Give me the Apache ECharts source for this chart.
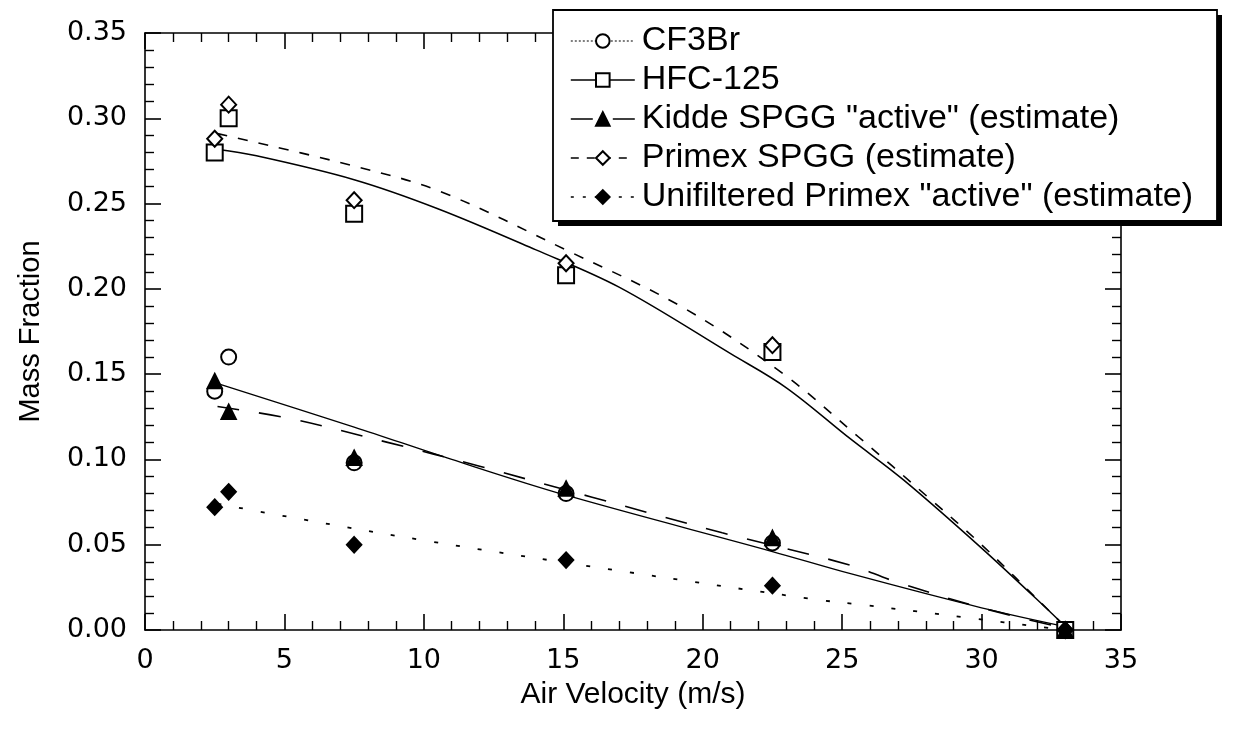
<!DOCTYPE html>
<html>
<head>
<meta charset="utf-8">
<script src="https://cdn.jsdelivr.net/npm/echarts@6/dist/echarts.min.js"></script>
<style>
html,body{margin:0;padding:0;background:#fff;}
#chart{width:1238px;height:742px;}
</style>
</head>
<body>
<div id="chart"></div>
<script>
// ---- data ----
const seriesNames = ['CF3Br', 'HFC-125', 'Kidde SPGG "active" (estimate)', 'Primex SPGG (estimate)', 'Unifiltered Primex "active" (estimate)'];

// measured points [air velocity (m/s), mass fraction]
const cf3brPts = [[2.5, 0.140], [3.0, 0.160], [7.5, 0.098], [15.1, 0.080], [22.5, 0.051], [33.0, 0.000]];
const hfc125Pts = [[2.5, 0.280], [3.0, 0.300], [7.5, 0.244], [15.1, 0.208], [22.5, 0.163], [33.0, 0.000]];
const kiddePts = [[2.5, 0.146], [3.0, 0.128], [7.5, 0.101], [15.1, 0.083], [22.5, 0.054], [33.0, 0.000]];
const primexPts = [[2.5, 0.288], [3.0, 0.308], [7.5, 0.252], [15.1, 0.215], [22.5, 0.167], [33.0, 0.000]];
const unfiltPts = [[2.5, 0.072], [3.0, 0.081], [7.5, 0.050], [15.1, 0.041], [22.5, 0.026], [33.0, 0.000]];

// fitted curves
const cf3brFit = [[2.5, 0.145], [7.5, 0.119], [11, 0.100], [15.1, 0.079], [22.5, 0.046], [25.3, 0.033], [30, 0.013], [33, 0.002]];
const hfc125Fit = [[2.5, 0.282], [4, 0.278], [7.5, 0.264], [10.5, 0.247], [14, 0.223], [17, 0.201], [21, 0.162], [23, 0.142], [25.3, 0.112], [27.2, 0.088], [30, 0.048], [32.5, 0.010], [33, 0.002]];
const kiddeFit = [[2.6, 0.131], [5.2, 0.124], [8.7, 0.110], [12, 0.096], [16, 0.078], [20.7, 0.057], [25.3, 0.038], [26.8, 0.029], [30, 0.013], [33, 0.001]];
const primexFit = [[2.6, 0.291], [7.5, 0.272], [10.6, 0.257], [15.2, 0.222], [19.3, 0.189], [22.9, 0.150], [25.6, 0.113], [28, 0.079], [30, 0.050], [32.5, 0.010], [33, 0.002]];
const unfiltFit = [[2.6, 0.074], [5.6, 0.065], [10.2, 0.052], [17.3, 0.034], [24, 0.018], [25.6, 0.015], [29.6, 0.007], [32, 0.002], [33, 0.000]];

const xTicks = [0, 5, 10, 15, 20, 25, 30, 35];
const yTicks = [0.00, 0.05, 0.10, 0.15, 0.20, 0.25, 0.30, 0.35];

// ---- styles ----
const symbols = ['emptyCircle', 'emptyRect', 'triangle', 'emptyDiamond', 'diamond'];
const symbolSizes = [15, 16, 15, [15, 16], [15, 16]];
const lineTypes = ['solid', 'solid', [22, 20], [10, 11], [4, 18]];
const legendLineTypes = [[2, 2], 'solid', [22, 20], [8, 8], [3, 9]];
const lineWidths = [1.3, 1.5, 1.6, 1.6, 1.8];
const fits = [cf3brFit, hfc125Fit, kiddeFit, primexFit, unfiltFit];
const pts = [cf3brPts, hfc125Pts, kiddePts, primexPts, unfiltPts];

const series = [];
seriesNames.forEach((name, i) => {
  series.push({
    name: name,
    type: 'line',
    data: fits[i],
    smooth: 0.35,
    showSymbol: false,
    symbol: symbols[i],
    symbolSize: 14,
    itemStyle: { color: '#000', borderColor: '#000', borderWidth: 1.5, opacity: 1 },
    lineStyle: { color: '#000', width: lineWidths[i], type: lineTypes[i] },
    z: 2,
    silent: true
  });
});
seriesNames.forEach((name, i) => {
  series.push({
    name: name,
    type: 'scatter',
    data: pts[i],
    symbol: symbols[i],
    symbolSize: symbolSizes[i],
    itemStyle: { color: '#000', borderColor: '#000', borderWidth: 1.6, opacity: 1 },
    z: 3,
    silent: true
  });
});

const labelFont = { fontFamily: 'DejaVu Sans', fontSize: 27, color: '#000' };
const lineStyleAxis = { color: '#000', width: 1.6 };

function makeAxis(extra) {
  return Object.assign({
    type: 'value',
    axisLine: { show: true, onZero: false, lineStyle: lineStyleAxis },
    axisTick: { show: true, inside: true, length: 16, lineStyle: { color: '#000', width: 1.6 } },
    minorTick: { show: true, splitNumber: 5, length: 9, lineStyle: { color: '#000', width: 1.4 } },
    splitLine: { show: false },
    minorSplitLine: { show: false }
  }, extra);
}

// legend frame (layout only)
const legendBox = { x: 553, y: 10, w: 664, h: 211, shadow: 5 };

const option = {
  animation: false,
  backgroundColor: '#fff',
  grid: { left: 145, right: 117, top: 33, bottom: 112 },
  graphic: [
    { type: 'rect', z: 5, silent: true,
      shape: { x: legendBox.x + legendBox.shadow, y: legendBox.y + legendBox.shadow, width: legendBox.w, height: legendBox.h },
      style: { fill: '#000' } },
    { type: 'rect', z: 6, silent: true,
      shape: { x: legendBox.x, y: legendBox.y, width: legendBox.w, height: legendBox.h },
      style: { fill: '#fff', stroke: '#000', lineWidth: 1.8 } }
  ],
  legend: {
    data: seriesNames.map((n, i) => ({ name: n, lineStyle: { type: legendLineTypes[i], width: i === 0 ? 1.2 : 1.6 } })),
    orient: 'vertical',
    left: 570,
    top: 24,
    padding: 0,
    itemGap: 5,
    itemWidth: 64,
    itemHeight: 17,
    selectedMode: false,
    z: 10,
    textStyle: { fontFamily: 'Liberation Sans', fontSize: 34, color: '#000', lineHeight: 34, padding: [0, 0, 0, 2] }
  },
  xAxis: [
    makeAxis({
      min: 0, max: 35, interval: 5, position: 'bottom',
      name: 'Air Velocity (m/s)', nameLocation: 'middle', nameGap: 50,
      nameTextStyle: { fontFamily: 'Liberation Sans', fontSize: 30, color: '#000' },
      axisLabel: Object.assign({ margin: 17, formatter: v => (xTicks.indexOf(v) >= 0 ? String(v) : '') }, labelFont)
    }),
    makeAxis({ min: 0, max: 35, interval: 5, position: 'top', axisLabel: { show: false } })
  ],
  yAxis: [
    makeAxis({
      min: 0, max: 0.35, interval: 0.05, position: 'left',
      name: 'Mass Fraction', nameLocation: 'middle', nameGap: 100, nameRotate: 90,
      nameTextStyle: { fontFamily: 'Liberation Sans', fontSize: 29, color: '#000' },
      axisLabel: Object.assign({ margin: 18, formatter: v => yTicks.some(t => Math.abs(t - v) < 1e-9) ? v.toFixed(2) : '' }, labelFont)
    }),
    makeAxis({ min: 0, max: 0.35, interval: 0.05, position: 'right', axisLabel: { show: false } })
  ],
  series: series
};

const chart = echarts.init(document.getElementById('chart'), null, { renderer: 'canvas' });
chart.setOption(option);
</script>
</body>
</html>
